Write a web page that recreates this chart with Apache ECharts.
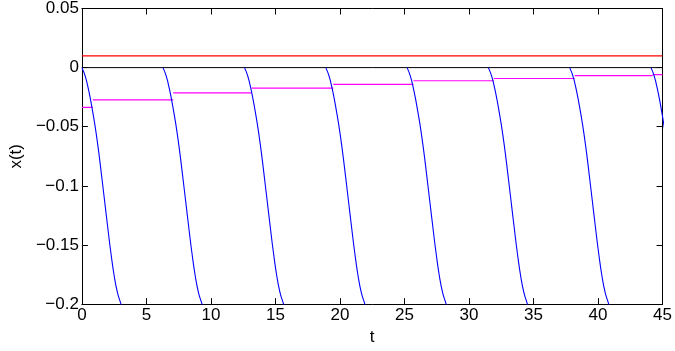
<!DOCTYPE html>
<html>
<head>
<meta charset="utf-8">
<script src="https://cdn.jsdelivr.net/npm/echarts@6/dist/echarts.min.js"></script>
<style>html,body{margin:0;padding:0;background:#fff}#c{width:675px;height:351px}</style>
</head>
<body>
<div id="c"></div>
<script>
// x-axis ticks and y-axis ticks
const xTicks = [0, 5, 10, 15, 20, 25, 30, 35, 40, 45];
const yTicks = [-0.2, -0.15, -0.1, -0.05, 0, 0.05];
// blue curve: start times of each cycle and the shape (time since start, value)
const blueStarts = [0, 6.28, 12.6, 18.9, 25.2, 31.5, 37.8, 44.1];
const blueShapeDt = [0, 0.25, 0.5, 0.75, 1.0, 1.25, 1.5, 1.75, 2.0, 2.25, 2.5, 2.75, 3.0, 3.25];
const blueShapeV  = [0, -0.007, -0.018, -0.032, -0.048, -0.067, -0.089, -0.112, -0.135, -0.157, -0.176, -0.190, -0.199, -0.207];
// magenta step function: switch times and levels (level i holds from magentaT[i] to magentaT[i+1])
const magentaT = [0, 0.85, 7.08, 13.15, 19.48, 25.7, 31.92, 38.2, 44.23, 45];
const magentaV = [-0.0336, -0.0272, -0.0213, -0.0173, -0.0141, -0.0111, -0.0092, -0.0067, -0.0059];
// red constant level
const redT = [0, 45];
const redV = [0.01, 0.01];
// zero line
const zeroT = [0, 45];
const zeroV = [0, 0];

const FONT = 'Liberation Sans';
const FS = 17;

const fmt = v => {
  let s = String(parseFloat(Number(v).toFixed(4)));
  return s.replace('-', '\u2212');
};

const series = [];
series.push({type:'line', data: zeroT.map((t,i)=>[t, zeroV[i]]), showSymbol:false, lineStyle:{color:'#000', width:1}, silent:true, z:1});
series.push({type:'line', data: redT.map((t,i)=>[t, redV[i]]), showSymbol:false, lineStyle:{color:'#ff0000', width:1.3}, z:2});
magentaV.forEach((v, i) => {
  series.push({type:'line', data: [[magentaT[i], v], [magentaT[i+1], v]], showSymbol:false, lineStyle:{color:'#ff00ff', width:1.2}, z:3});
});
blueStarts.forEach(s => {
  series.push({type:'line', data: blueShapeDt.map((d,i)=>[s + d, blueShapeV[i]]), showSymbol:false, smooth:true, clip:true, lineStyle:{color:'#0000ff', width:1.1}, z:4});
});

const axisCommon = {
  axisLine:{show:true, onZero:false, lineStyle:{color:'#000', width:1}},
  axisTick:{show:true, inside:true, length:6, lineStyle:{color:'#000'}},
  splitLine:{show:false}
};

const chart = echarts.init(document.getElementById('c'), null, {renderer:'canvas'});
chart.setOption({
  animation:false,
  grid:{left:80, right:10, top:6, bottom:37.5, containLabel:false},
  xAxis:[
    Object.assign({type:'value', min:xTicks[0], max:xTicks[xTicks.length-1], interval:5, position:'bottom',
      name:'t', nameLocation:'middle', nameGap:17,
      nameTextStyle:{fontFamily:FONT, fontSize:FS, color:'#000'},
      axisLabel:{fontFamily:FONT, fontSize:FS, color:'#000', margin:3}}, axisCommon),
    Object.assign({type:'value', min:xTicks[0], max:xTicks[xTicks.length-1], interval:5, position:'top',
      axisLabel:{show:false}}, axisCommon)
  ],
  yAxis:[
    Object.assign({type:'value', min:yTicks[0], max:yTicks[yTicks.length-1], interval:0.05, position:'left',
      name:'x(t)', nameLocation:'middle', nameGap:51, nameRotate:90,
      nameTextStyle:{fontFamily:FONT, fontSize:FS, color:'#000'},
      axisLabel:{fontFamily:FONT, fontSize:FS, color:'#000', margin:3, formatter:fmt}}, axisCommon),
    Object.assign({type:'value', min:yTicks[0], max:yTicks[yTicks.length-1], interval:0.05, position:'right',
      axisLabel:{show:false}}, axisCommon)
  ],
  series: series
});
</script>
</body>
</html>
